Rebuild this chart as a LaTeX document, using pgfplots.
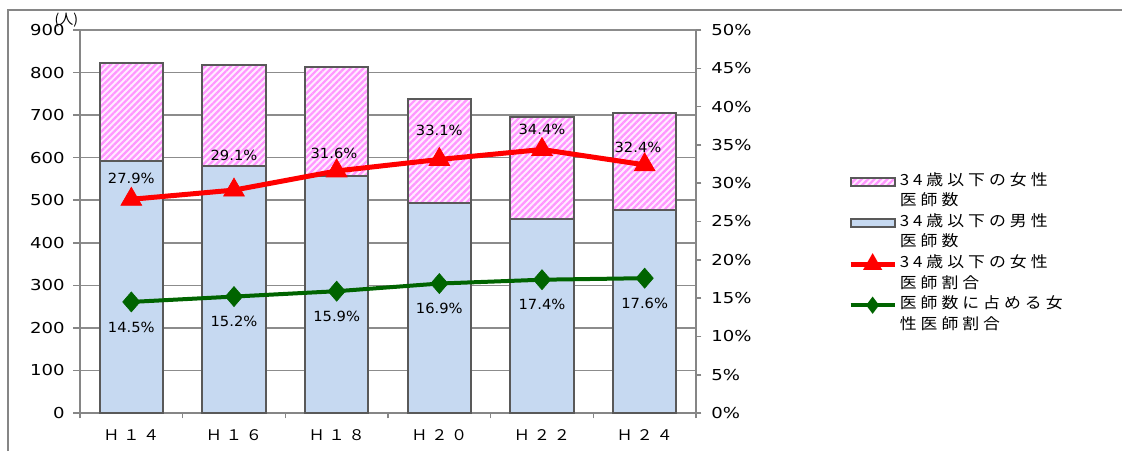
\documentclass[border=0pt]{standalone}
\usepackage{fontspec}
\usepackage{pgfplots}
\pgfplotsset{compat=1.18}
\usepackage{pgfplotstable}
\usetikzlibrary{patterns.meta}

\setmainfont{DejaVu Sans}
\newfontfamily\numfont{DejaVu Sans}[FakeStretch=1.2]
\newfontfamily\lblfont{DejaVu Sans}[FakeStretch=1.05]
\newfontfamily\jpfont{Noto Sans CJK JP}[FakeStretch=1.1,LetterSpace=26]
\newfontfamily\jpsmall{Noto Sans CJK JP}

\definecolor{gridgray}{RGB}{140,140,140}
\definecolor{axisgray}{RGB}{134,134,134}
\definecolor{edgegray}{RGB}{89,89,89}
\definecolor{malefill}{RGB}{198,217,241}
\definecolor{stripepink}{RGB}{255,150,255}
\definecolor{palepink}{RGB}{255,236,255}
\definecolor{ratiored}{RGB}{255,0,0}
\definecolor{ratiogreen}{RGB}{0,100,0}

% doctors aged 34 or under (persons)
\pgfplotstableread{
x male female
0 593 229
1 580 238
2 556 257
3 494 245
4 457 239
5 477 228
}\doctors

% share of women among doctors aged 34 or under (%), label offsets in pt
\pgfplotstableread{
x y dx dy
0 27.9 0 15.75
1 29.1 0 26.25
2 31.6 -2 13.5
3 33.1 0 21.75
4 34.4 0 15
5 32.4 -5 12.75
}\youngratio

% share of women among all doctors (%)
\pgfplotstableread{
x y
0 14.5
1 15.2
2 15.9
3 16.9
4 17.4
5 17.6
}\allratio

\tikzset{
  malebar/.style={fill=malefill, draw=edgegray, line width=1.5pt},
  femalebar/.style={preaction={fill=palepink},
    pattern={Lines[angle=45,distance=3.4pt,line width=1.7pt]},
    pattern color=stripepink, draw=edgegray, line width=1.5pt},
}

\pgfplotsset{
  /pgf/number format/assume math mode=true,
  chartframe/.style={
    at={(60pt,28.5pt)}, anchor=south west, scale only axis,
    width=462pt, height=287.25pt,
    xmin=-0.5, xmax=5.5,
    tick align=outside,
    tick style={draw=axisgray, line width=1.2pt},
    axis line style={draw=axisgray, line width=1.5pt},
  },
}

\begin{document}
\begin{tikzpicture}
\useasboundingbox (0pt,0pt) rectangle (841.5pt,338.25pt);
\draw[axisgray, line width=1.1pt] (6pt,0pt) -- (6pt,330.75pt) -- (841.5pt,330.75pt);

\begin{axis}[
  chartframe,
  ybar stacked, bar width=0.62,
  ymin=0, ymax=900,
  axis x line*=bottom, axis y line*=left,
  ytick={0,100,...,900},
  ymajorgrids, grid style={draw=gridgray, line width=1.2pt},
  xtick={0,...,5},
  xticklabels={Ｈ１４,Ｈ１６,Ｈ１８,Ｈ２０,Ｈ２２,Ｈ２４},
  major x tick style={draw=none},
  minor xtick={-0.5,0.5,...,5.5},
  major tick length=5pt, minor tick length=4pt,
  y tick label style={font=\numfont\fontsize{11.3}{13}\selectfont, xshift=-3pt},
  x tick label style={font=\jpfont\fontsize{11}{13}\selectfont, yshift=-4pt},
  clip=false,
]
\addplot[malebar] table[x=x, y=male]{\doctors};
\addplot[femalebar] table[x=x, y=female]{\doctors};
\node[font=\jpsmall\fontsize{10.5}{11}\selectfont] at (axis description cs:-0.022,1.026) {(人)};
\end{axis}

\begin{axis}[
  chartframe,
  ymin=0, ymax=50,
  axis y line*=right, axis x line=none,
  ytick={0,5,...,50},
  major tick length=4pt,
  yticklabel={\pgfmathprintnumber{\tick}\%},
  y tick label style={font=\numfont\fontsize{11.3}{13}\selectfont, xshift=4pt},
  clip=false,
  legend style={at={(axis description cs:1.247,0.632)}, anchor=north west,
    draw=none, fill=none, inner sep=0pt, outer sep=0pt,
    row sep=0pt, column sep=2pt,
    font=\jpfont\fontsize{11.5}{15.4}\selectfont,
    nodes={inner sep=0pt, anchor=base west, text height=10.8pt, text depth=4.6pt}},
]
\addlegendimage{legend image code/.code={\draw[femalebar, line width=1.5pt] (0pt,-0.5pt) rectangle (33pt,5.5pt);}}
\addlegendentry{34歳以下の女性}
\addlegendimage{empty legend}
\addlegendentry{医師数}
\addlegendimage{legend image code/.code={\draw[malebar] (0pt,-0.5pt) rectangle (33pt,5.5pt);}}
\addlegendentry{34歳以下の男性}
\addlegendimage{empty legend}
\addlegendentry{医師数}

\addplot[ratiored, line width=3.75pt,
  mark=triangle*, mark size=9pt, mark options={solid, line width=0.5pt},
  point meta=explicit,
  visualization depends on={\thisrow{dx} \as \labdx},
  visualization depends on={\thisrow{dy} \as \labdy},
  nodes near coords={\pgfmathprintnumber[fixed,fixed zerofill,precision=1]{\pgfplotspointmeta}\%},
  every node near coord/.append style={anchor=center, text=black,
    font=\lblfont\fontsize{10.5}{12}\selectfont,
    xshift=\labdx pt, yshift=\labdy pt},
  legend image code/.code={\draw[ratiored, line width=3.75pt] (0pt,2.5pt) -- (33pt,2.5pt);
    \fill[ratiored] (16.5pt,2.5pt) ++(0,4.5pt) -- ++(-4pt,-7pt) -- ++(8pt,0) -- cycle;},
] table[x=x, y=y, meta=y]{\youngratio};
\addlegendentry{34歳以下の女性}
\addlegendimage{empty legend}
\addlegendentry{医師割合}

\addplot[ratiogreen, line width=3pt,
  mark=diamond*, mark size=7.5pt, mark options={solid, line width=0.5pt, xscale=1.15},
  point meta=explicit,
  nodes near coords={\pgfmathprintnumber[fixed,fixed zerofill,precision=1]{\pgfplotspointmeta}\%},
  every node near coord/.append style={anchor=center, text=black,
    font=\lblfont\fontsize{10.5}{12}\selectfont, yshift=-18.75pt},
  legend image code/.code={\draw[ratiogreen, line width=3pt] (0pt,2.5pt) -- (33pt,2.5pt);
    \fill[ratiogreen] (16.5pt,2.5pt) ++(0,4pt) -- ++(3pt,-4pt) -- ++(-3pt,-4pt) -- ++(-3pt,4pt) -- cycle;},
] table[x=x, y=y, meta=y]{\allratio};
\addlegendentry{医師数に占める女}
\addlegendimage{empty legend}
\addlegendentry{性医師割合}
\end{axis}
\end{tikzpicture}
\end{document}
